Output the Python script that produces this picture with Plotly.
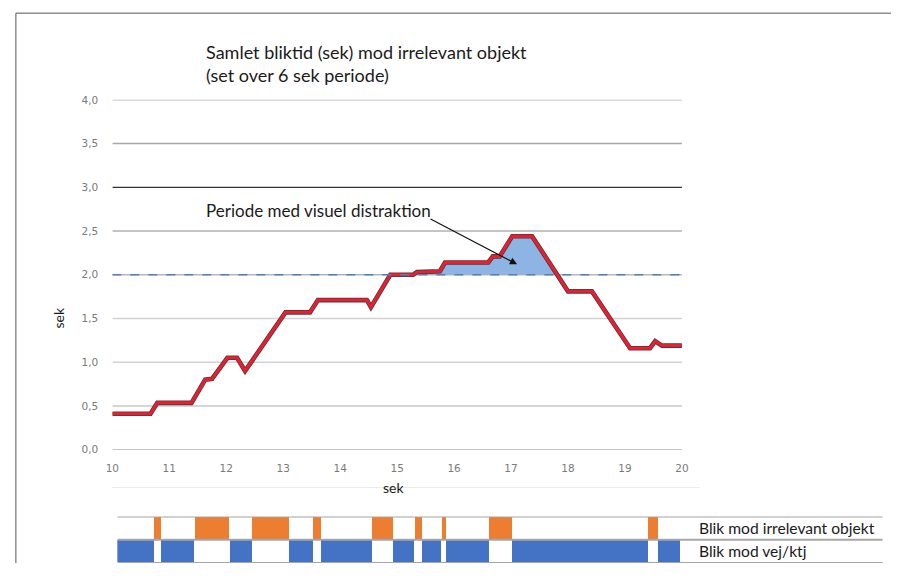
import numpy as np
import plotly.graph_objects as go

# ---------------- data ----------------
time_s = [10.0, 10.67, 10.79, 11.39, 11.63, 11.75, 12.02, 12.19, 12.33, 13.04, 13.47,
          13.61, 14.47, 14.54, 14.88, 15.28, 15.35, 15.75, 15.84, 16.60, 16.68, 16.80,
          17.02, 17.37, 18.00, 18.42, 19.09, 19.44, 19.53, 19.65, 20.0]
glance_sum = [0.41, 0.41, 0.535, 0.535, 0.80, 0.81, 1.05, 1.05, 0.90, 1.57, 1.57,
              1.71, 1.71, 1.63, 2.00, 2.00, 2.03, 2.04, 2.14, 2.14, 2.21, 2.21,
              2.44, 2.44, 1.81, 1.81, 1.16, 1.16, 1.24, 1.19, 1.19]
threshold = 2.0

y_ticks = [0, 0.5, 1.0, 1.5, 2.0, 2.5, 3.0, 3.5, 4.0]
grid_colors = ["#b0b0b0", "#c8c8c8", "#d2d2d2", "#d2d2d2", "#b8b8b8",
               "#b0b0b0", "#333333", "#a8a8a8", "#b8b8b8"]
x_ticks = list(range(10, 21))

row_labels = ["Blik mod vej/ktj", "Blik mod irrelevant objekt"]
orange_start = [10.66, 11.38, 12.40, 13.48, 14.54, 15.29, 15.77, 16.61, 19.43]
orange_end = [10.78, 11.99, 13.05, 13.62, 14.90, 15.43, 15.84, 17.02, 19.61]
blue_start = [10.0, 10.78, 12.01, 13.05, 13.62, 14.90, 15.43, 15.84, 17.02, 19.61]
blue_end = [10.66, 11.37, 12.40, 13.48, 14.53, 15.28, 15.76, 16.61, 19.43, 20.0]

title_text = "Samlet bliktid (sek) mod irrelevant objekt<br>(set over 6 sek periode)"
note_text = "Periode med visuel distraktion"

# ---------------- figure ----------------
OX, OY = 8, 8
W, H = 890, 561
SX, BX = 0.985, 6.7
SY, BY = 0.982, 5.0
def clamp(v):
    return min(1.0, max(0.0, v))
def px(x):
    return ((x - BX) / SX - OX) / W
def py(y):
    return 1 - ((y - BY) / SY - OY) / H

fig = go.Figure()

# fill above threshold
xf = np.linspace(time_s[0], time_s[-1], 2001)
yf = np.interp(xf, time_s, glance_sum)
fig.add_trace(go.Scatter(x=xf, y=np.full_like(xf, threshold), mode="lines",
                         line=dict(width=0), hoverinfo="skip", showlegend=False))
fig.add_trace(go.Scatter(x=xf, y=np.maximum(yf, threshold), mode="lines",
                         line=dict(width=0), fill="tonexty",
                         fillcolor="rgba(141,180,226,1)", hoverinfo="skip", showlegend=False))

# line: dark outline + red core
fig.add_trace(go.Scatter(x=time_s, y=glance_sum, mode="lines",
                         line=dict(color="#404040", width=4.6), showlegend=False))
fig.add_trace(go.Scatter(x=time_s, y=glance_sum, mode="lines",
                         line=dict(color="#ee1c2e", width=3), showlegend=False))

# glance bars
fig.add_trace(go.Bar(orientation="h", y=[row_labels[1]] * len(orange_start),
                     base=orange_start,
                     x=[e - s for s, e in zip(orange_start, orange_end)],
                     marker=dict(color="#ed7d31", line=dict(width=0)), width=0.94,
                     xaxis="x2", yaxis="y2", showlegend=False))
fig.add_trace(go.Bar(orientation="h", y=[row_labels[0]] * len(blue_start),
                     base=blue_start,
                     x=[e - s for s, e in zip(blue_start, blue_end)],
                     marker=dict(color="#4472c4", line=dict(width=0)), width=0.94,
                     xaxis="x2", yaxis="y2", showlegend=False))

shapes = []
# gridlines
for yv, gc in zip(y_ticks, grid_colors):
    shapes.append(dict(type="line", xref="x", yref="y", x0=10, x1=20.04, y0=yv, y1=yv,
                       line=dict(color=gc, width=1.5 if yv != 3.0 else 1.3), layer="below"))
# dashed threshold
shapes.append(dict(type="line", xref="x", yref="y", x0=10, x1=20.04, y0=threshold, y1=threshold,
                   line=dict(color="#4f81bd", width=1.5, dash="dash"), layer="above"))
# strip separators
bar_x_end = 10 + (883 - 117) / 56.3
for yv in [-0.5, 0.5, 1.5]:
    shapes.append(dict(type="line", xref="x2", yref="y2", x0=10, x1=bar_x_end, y0=yv, y1=yv,
                       line=dict(color="#a6a6a6", width=2), layer="above"))
# outer frame (top and left edges only; the rest runs off the picture)
frame_left = clamp(px(5)) + 0.001
shapes.append(dict(type="line", xref="paper", yref="paper", x0=frame_left, x1=1.0,
                   y0=py(12), y1=py(12), line=dict(color="#555555", width=1)))
shapes.append(dict(type="line", xref="paper", yref="paper", x0=frame_left, x1=frame_left,
                   y0=0, y1=py(12), line=dict(color="#555555", width=1)))
# faint line under x axis labels
shapes.append(dict(type="line", xref="paper", yref="paper", x0=px(112), x1=px(700),
                   y0=py(488), y1=py(488), line=dict(color="#ececec", width=1)))

annotations = [
    dict(text=title_text, xref="paper", yref="paper", x=px(204), y=py(38),
         xanchor="left", yanchor="top", align="left", showarrow=False,
         font=dict(family="Lato", size=18, color="#1a1a1a")),
    dict(text=note_text, xref="paper", yref="paper", x=px(204), y=py(210),
         xanchor="left", yanchor="middle", showarrow=False,
         font=dict(family="Lato", size=17, color="#1a1a1a")),
    dict(text="", xref="x", yref="y", x=10 + (517 - 112) / 57, y=(450 - 264) / 87.75,
         ax=-88, ay=-46, showarrow=True, arrowhead=2, arrowsize=1.2, arrowwidth=1.2,
         arrowcolor="#111111"),
    dict(text="sek", xref="paper", yref="paper", x=px(393), y=py(488),
         xanchor="center", yanchor="middle", showarrow=False,
         font=dict(family="Lato", size=14, color="#1a1a1a")),
    dict(text="sek", xref="paper", yref="paper", x=px(58), y=py(318),
         xanchor="center", yanchor="middle", showarrow=False, textangle=-90,
         font=dict(family="Lato", size=14, color="#1a1a1a")),
]
for lab in row_labels:
    annotations.append(dict(text=lab, xref="paper", yref="y2", x=px(697), y=lab,
                            xanchor="left", yanchor="middle", showarrow=False,
                            font=dict(family="Lato", size=15.6, color="#1a1a1a")))

fig.update_layout(
    width=W, height=H, margin=dict(l=0, r=0, t=0, b=0),
    paper_bgcolor="white", plot_bgcolor="white",
    separators=",.",
    barmode="overlay", bargap=0,
    xaxis=dict(domain=[clamp(px(112)), clamp(px(682))], range=[10, 20], tickvals=x_ticks,
               showgrid=False, zeroline=False, showline=False,
               ticks="outside", ticklen=9, tickcolor="rgba(0,0,0,0)",
               tickfont=dict(family="DejaVu Sans", size=10.5, color="#7a7a7a")),
    yaxis=dict(domain=[clamp(py(450)), clamp(py(99))], range=[0, 4], tickvals=y_ticks,
               tickformat=".1f", showgrid=False, zeroline=False,
               showline=False, ticks="outside", ticklen=11, tickcolor="rgba(0,0,0,0)",
               tickfont=dict(family="DejaVu Sans", size=10.5, color="#7a7a7a")),
    xaxis2=dict(domain=[clamp(px(117)), clamp(px(883))], range=[10, bar_x_end], anchor="y2",
                visible=False),
    yaxis2=dict(domain=[clamp(py(564)), clamp(py(517))], range=[-0.5, 1.5], anchor="x2",
                type="category", categoryorder="array", categoryarray=row_labels,
                visible=False),
    shapes=shapes, annotations=annotations,
)

fig.write_html("out.html")
